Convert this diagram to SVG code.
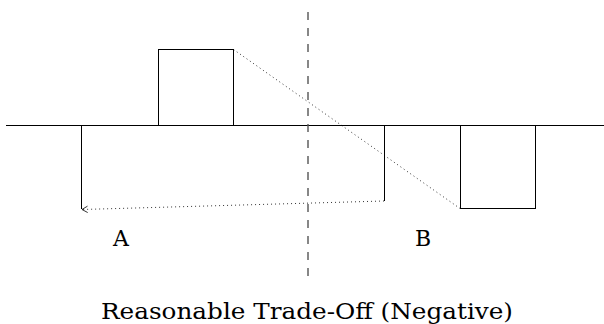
<svg xmlns="http://www.w3.org/2000/svg" width="604" height="324" viewBox="0 0 604 324">
<defs>
<style>
.ln{stroke:#000;stroke-width:1;fill:none}
.dot{stroke:#000;stroke-width:0.8;fill:none;stroke-dasharray:1 3}
.dash{stroke:#555;stroke-width:1.4;fill:none;stroke-dasharray:8 8}
.box{stroke:#000;stroke-width:1;fill:#fff}
.lbl{font-family:"DejaVu Serif","Liberation Serif",serif;font-size:22px;fill:#000}
</style>
<marker id="arr" viewBox="0 0 10 10" refX="9" refY="5" markerWidth="8" markerHeight="8" orient="auto" markerUnits="userSpaceOnUse">
<path d="M2,1 L9,5 L2,9" fill="none" stroke="#000" stroke-width="1"/>
</marker>
</defs>
<rect width="604" height="324" fill="#fff"/>
<g id="axis">
<line class="ln" x1="6" y1="125.5" x2="604" y2="125.5"/>
<line class="dash" x1="308" y1="12" x2="308" y2="280"/>
</g>
<g id="boxA"><rect class="box" x="158.5" y="49.5" width="75" height="76"/></g>
<g id="boxB"><rect class="box" x="460.5" y="125.5" width="75" height="83"/></g>
<g id="connectors">
<line class="ln" x1="81.5" y1="125.5" x2="81.5" y2="209"/>
<line class="ln" x1="384.5" y1="125.5" x2="384.5" y2="201"/>
<line class="dot" x1="384" y1="201" x2="82" y2="209.5" marker-end="url(#arr)"/>
<line class="dot" x1="233.5" y1="49.5" x2="460" y2="208.5"/>
</g>
<g id="labels">
<text class="lbl" x="121" y="246" text-anchor="middle">A</text>
<text class="lbl" x="423" y="246" text-anchor="middle">B</text>
<text class="lbl" x="101" y="319" textLength="412" lengthAdjust="spacingAndGlyphs">Reasonable Trade-Off (Negative)</text>
</g>
</svg>
